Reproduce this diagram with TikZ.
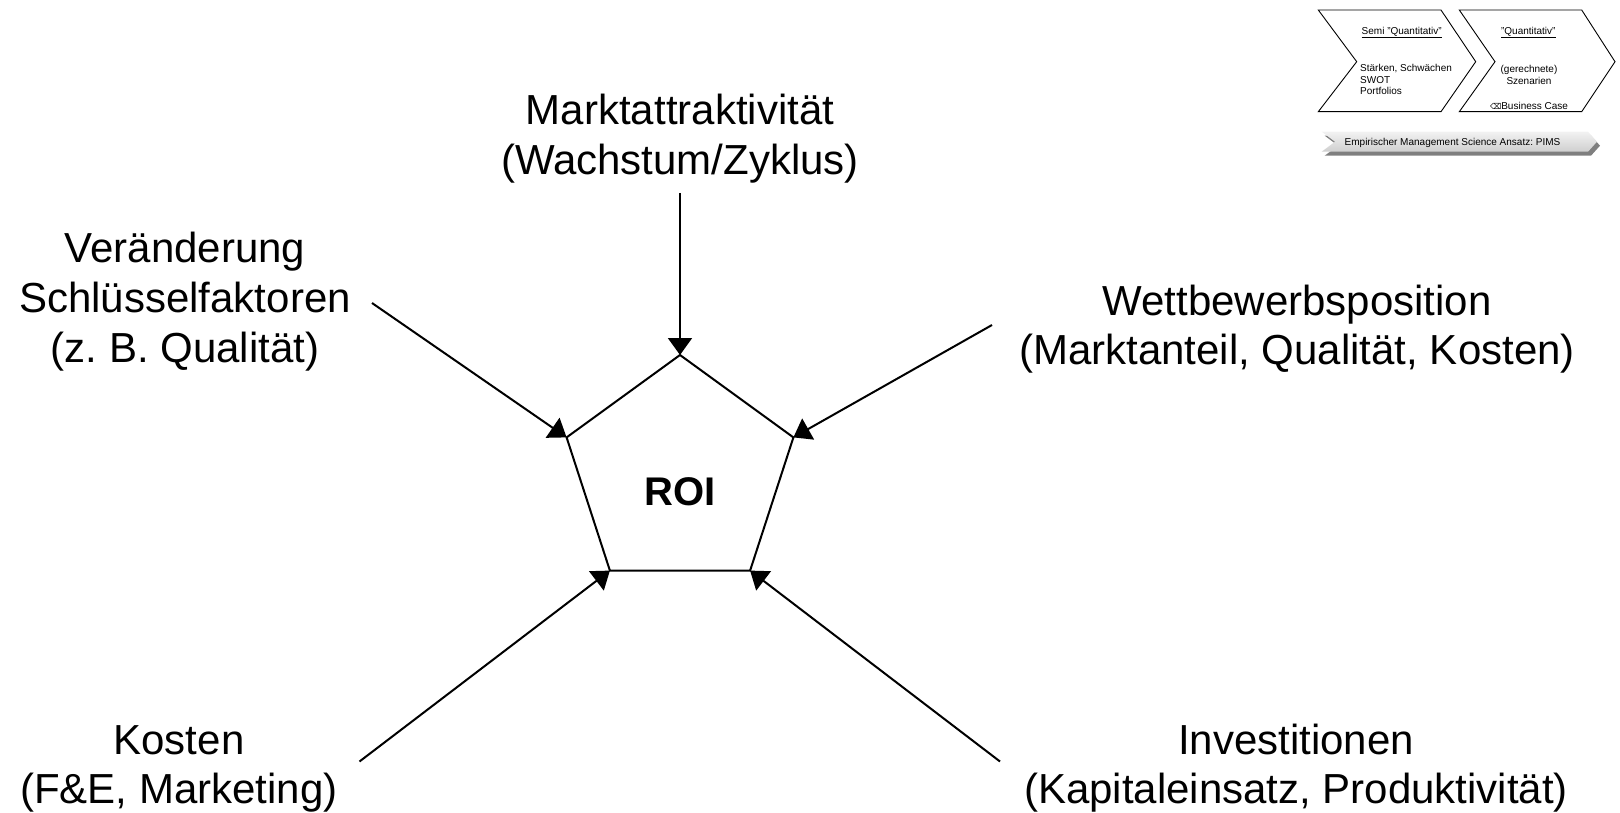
\documentclass[tikz,border=0pt]{standalone}
\usepackage{fontspec}
\setmainfont{Liberation Sans}
\newfontfamily\symfont{DejaVu Sans}
\usetikzlibrary{arrows.meta}
\definecolor{shadowgray}{HTML}{7F7F7F}
\definecolor{bannertop}{HTML}{F2F2F2}
\definecolor{bannerbottom}{HTML}{CFCFCF}
\frenchspacing
\begin{document}
\begin{tikzpicture}[x=1pt,y=-1pt,
  lbl/.style={anchor=base, inner sep=0pt, font=\fontsize{42}{50}\selectfont},
  roitext/.style={anchor=base, inner sep=0pt, font=\fontsize{40}{48}\selectfont\bfseries},
  small/.style={anchor=base, inner sep=0pt, font=\fontsize{10}{12}\selectfont},
  smallleft/.style={small, anchor=base west},
  feed/.style={line width=2pt, -{Triangle[length=17pt,width=24pt]}},
  edge/.style={line width=2pt, line join=miter},
  chev/.style={draw=black, line width=0.9pt, fill=white, line join=miter},
]
\useasboundingbox (0,0) rectangle (1620,813);

% pentagon corners
\coordinate (p1) at (680,355);
\coordinate (p2) at (793.4,437.4);
\coordinate (p3) at (750.1,570.6);
\coordinate (p4) at (609.9,570.6);
\coordinate (p5) at (566.6,437.4);
\draw[edge] (p1) -- (p2) -- (p3) -- (p4) -- (p5) -- cycle;
\node[roitext] (roi) at (680,505) {ROI};

% factor labels
\node[lbl] (mk1) at (680,125) {Marktattraktivität};
\node[lbl] (mk2) at (680,174.5) {(Wachstum/Zyklus)};
\node[lbl] (vs1) at (185,262) {Veränderung};
\node[lbl] (vs2) at (185,312) {Schlüsselfaktoren};
\node[lbl] (vs3) at (185,362) {(z. B. Qualität)};
\node[lbl] (wb1) at (1297,315) {Wettbewerbsposition};
\node[lbl] (wb2) at (1297,364) {(Marktanteil, Qualität, Kosten)};
\node[lbl] (ko1) at (179,754) {Kosten};
\node[lbl] (ko2) at (179,803) {(F\&E, Marketing)};
\node[lbl] (in1) at (1296,754) {Investitionen};
\node[lbl] (in2) at (1296,803) {(Kapitaleinsatz, Produktivität)};

% arrows into the pentagon
\coordinate (sTop) at (680,193);
\coordinate (sLeft) at (372,303);
\coordinate (sRight) at (992,325);
\coordinate (sBL) at (359.5,761.5);
\coordinate (sBR) at (1000,761.5);
\draw[feed] (sTop) -- (p1);
\draw[feed] (sLeft) -- (p5);
\draw[feed] (sRight) -- (p2);
\draw[feed] (sBL) -- (p4);
\draw[feed] (sBR) -- (p3);

% method chevrons
\draw[chev] (1318.3,10) -- (1441,10) -- (1475.7,61.7) -- (1441,111.7) -- (1318.3,111.7) -- (1356.7,61.7) -- cycle;
\draw[chev] (1459.3,10) -- (1581.7,10) -- (1615,61.7) -- (1581.7,111.7) -- (1459.3,111.7) -- (1495,61.7) -- cycle;
\node[small] (c1title) at (1401.7,34.3) {\underline{Semi "Quantitativ"}};
\node[smallleft] (c1a) at (1360,71.7) {Stärken, Schwächen};
\node[smallleft] (c1b) at (1360,83.3) {SWOT};
\node[smallleft] (c1c) at (1360,95) {Portfolios};
\node[small] (c2title) at (1528.3,34.3) {\underline{"Quantitativ"}};
\node[small] (c2a) at (1529,72.7) {(gerechnete)};
\node[small] (c2b) at (1529,84.3) {Szenarien};
\node[small] (c2c) at (1529,110) {{\symfont\fontsize{8}{10}\selectfont ⌫}Business Case};

% banner with drop shadow
\fill[shadowgray] (1324.7,135.7) -- (1591,135.7) -- (1600,145.7) -- (1591,155.7) -- (1324.7,155.7) -- (1338,145.7) -- cycle;
\shade[top color=bannertop, bottom color=bannerbottom] (1321.7,131.7) -- (1588,131.7) -- (1597,141.7) -- (1588,151.7) -- (1321.7,151.7) -- (1335,141.7) -- cycle;
\node[small] (pims) at (1452.5,145.7) {Empirischer Management Science Ansatz: PIMS};
\end{tikzpicture}
\end{document}
